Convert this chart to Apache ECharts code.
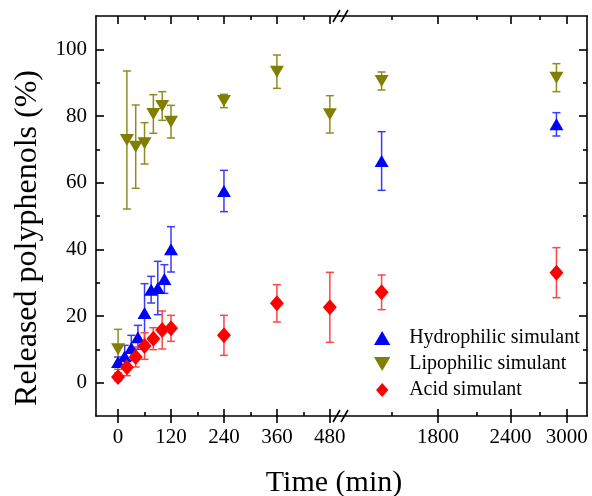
<!DOCTYPE html>
<html>
<head>
<meta charset="utf-8">
<script src="https://cdn.jsdelivr.net/npm/echarts@6/dist/echarts.min.js"></script>
<style>
  html, body { margin: 0; padding: 0; background: #fff; }
  #main { width: 592px; height: 496px; }
</style>
</head>
<body>
<div id="main"></div>
<script>
  // times in min, values in %
  var hydroTime = [0, 15, 30, 45, 60, 75, 90, 105, 120, 240, 1440, 2880];
  var hydroMean = [6.2, 7.9, 10.4, 13.6, 20.9, 27.9, 28.4, 31.1, 40.0, 57.5, 66.5, 77.5];
  var hydroErr = [1.5, 3.3, 3.8, 3.6, 8.8, 4.0, 8.0, 4.3, 6.8, 6.2, 8.8, 3.5];

  var lipoTime = [0, 20, 40, 60, 80, 100, 120, 240, 360, 480, 1440, 2880];
  var lipoMean = [10.0, 72.8, 70.8, 71.8, 80.6, 83.0, 78.3, 84.5, 93.3, 80.5, 90.5, 91.5];
  var lipoErr = [6.0, 20.7, 12.5, 6.2, 5.8, 4.3, 4.9, 2.0, 5.0, 5.6, 2.7, 4.2];

  var acidTime = [0, 20, 40, 60, 80, 100, 120, 240, 360, 480, 1440, 2880];
  var acidMean = [1.7, 4.6, 7.7, 11.0, 13.2, 15.8, 16.3, 14.2, 23.8, 22.6, 27.1, 33.0];
  var acidErr = [1.2, 2.5, 3.0, 4.0, 3.3, 5.7, 3.9, 6.0, 5.6, 10.5, 5.2, 7.5];

  var leftTicks = [0, 120, 240, 360, 480];
  var leftMinor = [60, 180, 300, 420];
  var rightTicks = [1800, 2400, 3000];
  var rightMinor = [1500, 2100, 2700];
  var yTicks = [0, 20, 40, 60, 80, 100];
  var yMinor = [10, 30, 50, 70, 90];

  var leftMin = -50, leftMax = 503;   // linear part
  var rightMin = 1221, rightMax = 3251; // log part after the break
  var breakAt = 500;

  var font = 'Liberation Serif';
  var upTri = 'path://M7,0L14,12L0,12Z';
  var downTri = 'path://M0,0L14,0L7,12Z';
  var diamond = 'path://M7,0L14,8L7,16L0,8Z';

  function log10(v) { return Math.log10(v); }

  // one x axis layer: line / labels / ticks
  function xLayer(grid, pos, min, max, ticks, opts) {
    return {
      type: 'value', gridIndex: grid, position: pos, min: min, max: max,
      axisLine: { show: !!opts.line, onZero: false, lineStyle: { color: '#000', width: 1.6 } },
      axisTick: { show: true, inside: !!opts.inside, length: opts.len, customValues: ticks,
                  lineStyle: { color: '#000', width: 1.6 } },
      axisLabel: opts.labels ? { show: true, customValues: ticks, margin: 11, color: '#000',
                  fontFamily: font, fontSize: 21, formatter: opts.fmt } : { show: false },
      splitLine: { show: false }
    };
  }
  function yLayer(grid, pos, ticks, opts) {
    return {
      type: 'value', gridIndex: grid, position: pos, min: -10, max: 110,
      axisLine: { show: !!opts.line, onZero: false, lineStyle: { color: '#000', width: 1.6 } },
      axisTick: { show: true, inside: true, length: opts.len, customValues: ticks,
                  lineStyle: { color: '#000', width: 1.6 } },
      axisLabel: opts.labels ? { show: true, customValues: ticks, margin: 9, color: '#000',
                  fontFamily: font, fontSize: 21 } : { show: false },
      splitLine: { show: false }
    };
  }

  var rT = rightTicks.map(log10), rM = rightMinor.map(log10);
  var rMin = log10(rightMin), rMax = log10(rightMax);
  var logFmt = function (v) { return Math.round(Math.pow(10, v)); };

  var xAxis = [
    // left grid: 0..4
    xLayer(0, 'bottom', leftMin, leftMax, leftTicks, { line: true, labels: true, inside: false, len: 7 }),
    xLayer(0, 'bottom', leftMin, leftMax, leftTicks, { inside: true, len: 7 }),
    xLayer(0, 'bottom', leftMin, leftMax, leftMinor, { inside: true, len: 4 }),
    xLayer(0, 'top', leftMin, leftMax, leftTicks, { line: true, inside: true, len: 8 }),
    xLayer(0, 'top', leftMin, leftMax, leftMinor, { inside: true, len: 4 }),
    // right grid: 5..9
    xLayer(1, 'bottom', rMin, rMax, rT, { line: true, labels: true, inside: false, len: 7, fmt: logFmt }),
    xLayer(1, 'bottom', rMin, rMax, rT, { inside: true, len: 7 }),
    xLayer(1, 'bottom', rMin, rMax, rM, { inside: true, len: 4 }),
    xLayer(1, 'top', rMin, rMax, rT, { line: true, inside: true, len: 8 }),
    xLayer(1, 'top', rMin, rMax, rM, { inside: true, len: 4 })
  ];
  var yAxis = [
    yLayer(0, 'left', yTicks, { line: true, labels: true, len: 8 }),
    yLayer(0, 'left', yMinor, { len: 4 }),
    yLayer(1, 'right', yTicks, { line: true, len: 8 }),
    yLayer(1, 'right', yMinor, { len: 4 })
  ];

  function part(time, mean, err, right) {
    var out = [];
    for (var i = 0; i < time.length; i++) {
      if ((time[i] > breakAt) === right) {
        out.push([right ? log10(time[i]) : time[i], mean[i], err[i]]);
      }
    }
    return out;
  }

  function errBars(color) {
    return function (params, api) {
      var x = api.value(0), m = api.value(1), e = api.value(2);
      var top = api.coord([x, m + e]);
      var bot = api.coord([x, m - e]);
      var w = 4;
      var st = { stroke: color, lineWidth: 1.5 };
      return {
        type: 'group',
        children: [
          { type: 'line', shape: { x1: top[0], y1: top[1], x2: bot[0], y2: bot[1] }, style: st },
          { type: 'line', shape: { x1: top[0] - w, y1: top[1], x2: top[0] + w, y2: top[1] }, style: st },
          { type: 'line', shape: { x1: bot[0] - w, y1: bot[1], x2: bot[0] + w, y2: bot[1] }, style: st }
        ]
      };
    };
  }

  var sets = [
    { name: 'Hydrophilic simulant', t: hydroTime, m: hydroMean, e: hydroErr, color: '#0000ff', bar: '#3b3bff', symbol: upTri, size: [14, 12] },
    { name: 'Lipophilic simulant', t: lipoTime, m: lipoMean, e: lipoErr, color: '#808000', bar: '#8c8c22', symbol: downTri, size: [14, 12] },
    { name: 'Acid simulant', t: acidTime, m: acidMean, e: acidErr, color: '#ff0000', bar: '#ff4545', symbol: diamond, size: [14, 16] }
  ];

  var series = [];
  [false, true].forEach(function (right) {
    sets.forEach(function (s) {
      series.push({
        type: 'custom', name: s.name + ' err', silent: true, z: 1,
        xAxisIndex: right ? 5 : 0, yAxisIndex: right ? 2 : 0,
        renderItem: errBars(s.bar), encode: { x: 0, y: 1 },
        data: part(s.t, s.m, s.e, right)
      });
    });
  });
  [false, true].forEach(function (right) {
    sets.forEach(function (s) {
      series.push({
        type: 'scatter', name: s.name, z: 3,
        xAxisIndex: right ? 5 : 0, yAxisIndex: right ? 2 : 0,
        symbol: s.symbol, symbolSize: s.size,
        itemStyle: { color: s.color, opacity: 1 },
        data: part(s.t, s.m, s.e, right)
      });
    });
  });

  var myChart = echarts.init(document.getElementById('main'));
  myChart.setOption({
    animation: false,
    grid: [
      { left: 96, top: 16, width: 244, height: 400 },
      { left: 340, top: 16, width: 247, height: 400 }
    ],
    xAxis: xAxis,
    yAxis: yAxis,
    legend: {
      orient: 'vertical', left: 369, top: 323,
      itemWidth: 44, itemHeight: 14, itemGap: 6,
      textStyle: { fontFamily: font, fontSize: 20, color: '#000' },
      data: [
        { name: 'Hydrophilic simulant', icon: upTri },
        { name: 'Lipophilic simulant', icon: downTri },
        { name: 'Acid simulant', icon: diamond }
      ]
    },
    graphic: [
      { type: 'text', x: 334, y: 483, style: { text: 'Time (min)', font: '30px "Liberation Serif"', fill: '#000', align: 'center', verticalAlign: 'middle' } },
      { type: 'text', x: 28, y: 238, rotation: Math.PI / 2, style: { text: 'Released polyphenols (%)', font: '32px "Liberation Serif"', fill: '#000', align: 'center', verticalAlign: 'middle' } },
      { type: 'line', shape: { x1: 333, y1: 22, x2: 340, y2: 10 }, style: { stroke: '#000', lineWidth: 1.6 } },
      { type: 'line', shape: { x1: 341, y1: 22, x2: 348, y2: 10 }, style: { stroke: '#000', lineWidth: 1.6 } },
      { type: 'line', shape: { x1: 333, y1: 422, x2: 340, y2: 410 }, style: { stroke: '#000', lineWidth: 1.6 } },
      { type: 'line', shape: { x1: 341, y1: 422, x2: 348, y2: 410 }, style: { stroke: '#000', lineWidth: 1.6 } }
    ],
    series: series
  });
</script>
</body>
</html>
